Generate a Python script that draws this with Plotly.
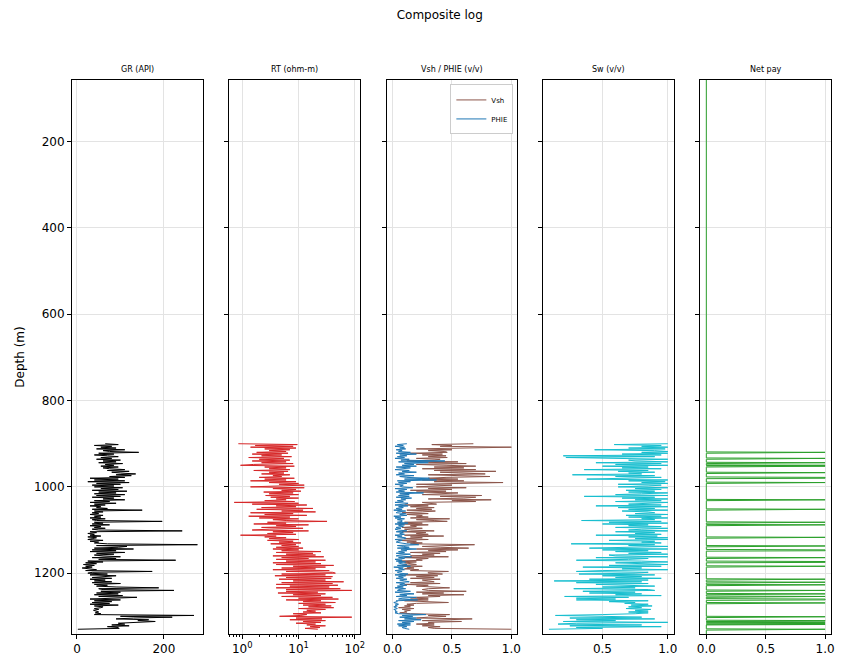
import plotly.graph_objects as go
from plotly.subplots import make_subplots

# log samples, one every 2 m starting at the top of the logged interval
LOG_TOP = 900
LOG_STEP = 2

gr = [65, 95, 40, 80, 55, 90, 45, 110, 60, 75,
      142, 50, 85, 40, 70, 95, 55, 80, 45, 100,
      60, 90, 50, 105, 65, 85, 55, 95, 60, 75,
      110, 70, 120, 80, 100, 135, 90, 125, 75, 110,
      30, 95, 40, 110, 25, 120, 45, 100, 35, 85,
      40, 105, 55, 95, 35, 115, 50, 90, 40, 110,
      45, 100, 35, 85, 60, 110, 40, 75, 30, 90,
      40, 65, 30, 55, 45, 70, 35, 150, 40, 60,
      35, 50, 30, 60, 40, 55, 30, 65, 35, 45,
      196, 40, 60, 35, 75, 30, 55, 40, 65, 35,
      50, 242, 30, 45, 25, 40, 30, 55, 25, 45,
      35, 25, 60, 30, 50, 40, 70, 277, 45, 115,
      95, 40, 130, 35, 90, 30, 110, 45, 85, 40,
      60, 100, 35, 90, 50, 227, 25, 60, 20, 45,
      15, 40, 20, 35, 12, 30, 45, 20, 173, 35,
      25, 70, 30, 90, 45, 35, 80, 30, 65, 40,
      80, 35, 100, 40, 70, 45, 90, 188, 50, 60,
      223, 55, 100, 45, 95, 40, 105, 50, 138, 60,
      30, 100, 40, 80, 35, 75, 30, 95, 40, 60,
      55, 40, 50, 38, 45, 50, 42, 55, 40, 269,
      100, 219, 130, 90, 165, 140, 180, 125, 95, 110,
      80, 120, 70, 95, 97, 2]

rt = [0.85, 9.5, 1.7, 8, 1.4, 9, 2.5, 7, 3, 6,
      1.8, 6.5, 1.5, 5, 2.2, 7.5, 1.3, 5.5, 2, 7,
      1.5, 6, 2.2, 8, 1.6, 0.93, 8.4, 2.5, 6, 3,
      7, 1.6, 6.5, 3, 5.5, 2.2, 7, 3.5, 5, 2,
      8.4, 2.5, 6, 1.4, 9, 3, 10, 4.5, 12.6, 2.5,
      1.4, 12.6, 3.5, 9, 5, 11, 2.4, 8, 3, 10,
      2.6, 7, 3.2, 10, 4, 6, 2.5, 8.5, 0.72, 10,
      1.5, 14, 4, 9, 2.2, 18, 1.8, 12, 5, 20,
      1.4, 8, 2.5, 14, 1.3, 7, 2, 10, 3.5, 6,
      32, 2.8, 6, 1.6, 15, 4, 9, 2.2, 12, 3,
      1.5, 15, 3.5, 8, 2.8, 9, 0.93, 4, 2.5, 6,
      3, 10, 2.8, 8, 4.5, 11, 3.2, 9, 5, 10,
      4, 12, 3.5, 10, 5, 25, 4, 18, 6, 20,
      3.5, 28, 5, 15, 4, 30, 6, 20, 3.5, 25,
      4, 42, 8, 30, 5, 20, 3.5, 35, 6, 40,
      45, 5, 30, 3.8, 40, 6, 38, 4.5, 30, 8,
      63, 5, 40, 4, 50, 7, 35, 4, 55, 6,
      88, 6, 22, 4.3, 30, 8, 25, 5, 40, 10,
      51, 6, 25, 12, 45, 10, 30, 12, 38, 15,
      42, 10, 30, 14, 20, 12, 25, 8, 14, 11,
      4.6, 88, 9, 26, 7, 30, 12, 25, 9, 20,
      14, 30, 16, 24, 13, 22]

vsh = [0.68, 0.33, 0.5, 0.4, 1.0, 0.45, 0.2, 0.5, 0.3, 0.44,
       0.46, 0.15, 0.42, 0.25, 0.45, 0.3, 0.46, 0.2, 0.4, 0.35,
       0.12, 0.55, 0.3, 0.62, 0.2, 0.45, 0.7, 0.35, 0.6, 0.25,
       0.7, 0.35, 0.87, 0.4, 0.6, 0.78, 0.3, 0.55, 0.82, 0.45,
       0.3, 0.55, 0.25, 0.6, 0.35, 0.93, 0.45, 0.2, 0.5, 0.3,
       0.2, 0.62, 0.3, 0.5, 0.15, 0.45, 0.2, 0.55, 0.35, 0.25,
       0.75, 0.4, 0.7, 0.6, 0.3, 0.83, 0.5, 0.7, 0.25, 0.35,
       0.37, 0.1, 0.3, 0.15, 0.35, 0.2, 0.33, 0.12, 0.36, 0.25,
       0.08, 0.3, 0.12, 0.25, 0.2, 0.3, 0.15, 0.48, 0.2, 0.35,
       0.46, 0.1, 0.25, 0.05, 0.3, 0.15, 0.2, 0.08, 0.25, 0.1,
       0.15, 0.35, 0.08, 0.28, 0.2, 0.3, 0.1, 0.43, 0.15, 0.25,
       0.1, 0.3, 0.05, 0.2, 0.12, 0.25, 0.15, 0.69, 0.3, 0.25,
       0.4, 0.64, 0.2, 0.55, 0.3, 0.45, 0.15, 0.4, 0.25, 0.35,
       0.15, 0.47, 0.1, 0.3, 0.2, 0.25, 0.05, 0.2, 0.1, 0.15,
       0.2, 0.08, 0.25, 0.12, 0.18, 0.1, 0.22, 0.15, 0.47, 0.3,
       0.3, 0.42, 0.1, 0.38, 0.2, 0.35, 0.15, 0.4, 0.25, 0.3,
       0.35, 0.15, 0.4, 0.1, 0.3, 0.2, 0.35, 0.48, 0.3, 0.25,
       0.3, 0.62, 0.2, 0.43, 0.25, 0.6, 0.3, 0.4, 0.2, 0.3,
       0.15, 0.3, 0.1, 0.25, 0.47, 0.2, 0.12, 0.18, 0.1, 0.15,
       0.05, 0.18, 0.08, 0.15, 0.1, 0.12, 0.06, 0.15, 0.48, 0.3,
       0.45, 0.3, 0.2, 0.67, 0.45, 0.25, 0.58, 0.3, 0.35, 0.2,
       0.35, 0.25, 0.4, 0.3, 0.35, 1.0]

phie = [0.12, 0.04, 0.09, 0.02, 0.1, 0.06, 0.11, 0.03, 0.08, 0.05,
        0.15, 0.03, 0.2, 0.06, 0.12, 0.04, 0.1, 0.02, 0.14, 0.07,
        0.44, 0.05, 0.3, 0.1, 0.18, 0.08, 0.2, 0.03, 0.15, 0.05,
        0.02, 0.14, 0.08, 0.2, 0.05, 0.1, 0.03, 0.18, 0.06, 0.12,
        0.31, 0.1, 0.37, 0.04, 0.15, 0.05, 0.12, 0.02, 0.09, 0.06,
        0.08, 0.17, 0.02, 0.12, 0.05, 0.1, 0.03, 0.26, 0.06, 0.14,
        0.05, 0.14, 0.03, 0.16, 0.07, 0.11, 0.04, 0.09, 0.02, 0.13,
        0.1, 0.02, 0.13, 0.05, 0.09, 0.03, 0.08, 0.01, 0.11, 0.04,
        0.03, 0.11, 0.06, 0.12, 0.01, 0.07, 0.02, 0.1, 0.04, 0.08,
        0.08, 0.04, 0.13, 0.02, 0.1, 0.05, 0.09, 0.03, 0.07, 0.02,
        0.05, 0.12, 0.03, 0.09, 0.06, 0.1, 0.02, 0.08, 0.04, 0.11,
        0.11, 0.02, 0.08, 0.05, 0.03, 0.07, 0.12, 0.22, 0.04, 0.09,
        0.14, 0.04, 0.2, 0.07, 0.12, 0.05, 0.1, 0.03, 0.15, 0.06,
        0.03, 0.16, 0.05, 0.1, 0.02, 0.08, 0.03, 0.11, 0.05, 0.07,
        0.12, 0.04, 0.15, 0.01, 0.09, 0.05, 0.1, 0.02, 0.08, 0.04,
        0.06, 0.13, 0.02, 0.11, 0.05, 0.09, 0.03, 0.12, 0.06, 0.1,
        0.14, 0.03, 0.1, 0.06, 0.12, 0.04, 0.09, 0.02, 0.11, 0.05,
        0.04, 0.15, 0.02, 0.09, 0.18, 0.06, 0.12, 0.03, 0.2, 0.08,
        0.05, 0.21, 0.03, 0.04, 0.01, 0.03, 0.05, 0.02, 0.04, 0.01,
        0.02, 0.04, 0.01, 0.03, 0.02, 0.04, 0.02, 0.05, 0.28, 0.08,
        0.17, 0.06, 0.2, 0.1, 0.24, 0.05, 0.18, 0.08, 0.15, 0.04,
        0.15, 0.05, 0.12, 0.08, 0.1, 0.14]

sw = [1.0, 0.59, 0.95, 0.8, 1.0, 0.7, 0.98, 0.44, 0.9, 1.0,
      0.8, 1.0, 0.65, 0.95, 0.2, 0.9, 0.22, 0.85, 1.0, 0.7,
      0.75, 1.0, 0.45, 0.95, 0.6, 1.0, 0.5, 0.85, 0.65, 0.95,
      0.36, 0.85, 0.62, 0.9, 0.7, 0.8, 0.27, 0.9, 0.6, 0.95,
      0.55, 0.38, 1.0, 0.7, 0.98, 0.8, 1.0, 0.62, 0.95, 0.85,
      0.62, 1.0, 0.75, 0.95, 0.68, 0.9, 0.7, 1.0, 0.8, 0.6,
      1.0, 0.36, 0.9, 0.65, 1.0, 0.75, 0.95, 0.6, 1.0, 0.8,
      0.7, 0.95, 0.45, 1.0, 0.62, 0.9, 0.7, 1.0, 0.65, 0.85,
      0.9, 0.75, 1.0, 0.68, 0.95, 0.7, 1.0, 0.8, 0.9, 0.34,
      0.95, 0.55, 1.0, 0.5, 0.85, 0.7, 0.95, 0.6, 1.0, 0.8,
      0.7, 1.0, 0.6, 0.9, 0.75, 0.95, 0.45, 0.92, 0.7, 1.0,
      0.75, 1.0, 0.55, 0.9, 0.8, 0.95, 0.26, 0.9, 0.7, 1.0,
      0.65, 0.4, 1.0, 0.5, 0.85, 0.6, 0.95, 0.7, 1.0, 0.55,
      0.6, 1.0, 0.45, 0.85, 0.7, 0.3, 0.8, 1.0, 0.6, 0.9,
      1.0, 0.55, 0.95, 0.35, 0.8, 0.65, 1.0, 0.5, 0.3, 0.85,
      0.75, 0.32, 0.9, 0.5, 0.8, 0.6, 0.95, 0.4, 0.85, 0.13,
      0.8, 0.3, 0.85, 0.45, 0.7, 0.9, 0.5, 0.75, 0.28, 0.85,
      0.9, 0.35, 0.75, 0.4, 0.8, 0.6, 0.95, 0.21, 0.7, 0.3,
      0.6, 0.3, 0.85, 0.55, 0.75, 0.67, 0.85, 0.72, 0.88, 0.7,
      0.8, 0.68, 0.87, 0.75, 0.85, 0.7, 0.85, 0.75, 0.5, 0.14,
      0.5, 0.8, 0.25, 0.9, 0.3, 0.6, 0.2, 1.0, 0.3, 0.16,
      0.8, 0.25, 0.95, 0.3, 0.5, 0.09]

# net pay flag covers the whole well, 1 m samples
WELL_TOP = 57
WELL_BASE = 1341
pay_depths = [920, 934, 944, 950, 952, 967, 978, 979, 980, 990, 1030, 1052,
              1082, 1088, 1117, 1137, 1146, 1147, 1148, 1164, 1173, 1174, 1175,
              1184, 1214, 1221, 1227, 1240, 1248, 1254, 1260, 1261, 1262, 1269,
              1301, 1310, 1311, 1313, 1314, 1316, 1317, 1319, 1330]

depth = [LOG_TOP + LOG_STEP * i for i in range(len(gr))]
net_depth = list(range(WELL_TOP, WELL_BASE + 1))
pay_set = set(pay_depths)
net = [1 if d in pay_set else 0 for d in net_depth]

titles = ['GR (API)', 'RT (ohm-m)', 'Vsh / PHIE (v/v)', 'Sw (v/v)', 'Net pay']
fnt = 'DejaVu Sans'

fig = make_subplots(rows=1, cols=5, shared_yaxes=True)

lw = 1
fig.add_trace(go.Scatter(x=gr, y=depth, mode='lines', line=dict(color='black', width=lw),
                         showlegend=False), row=1, col=1)
fig.add_trace(go.Scatter(x=rt, y=depth, mode='lines', line=dict(color='#d62728', width=lw),
                         showlegend=False), row=1, col=2)
fig.add_trace(go.Scatter(x=vsh, y=depth, mode='lines', name='Vsh',
                         line=dict(color='#8c564b', width=lw)), row=1, col=3)
fig.add_trace(go.Scatter(x=phie, y=depth, mode='lines', name='PHIE',
                         line=dict(color='#1f77b4', width=lw)), row=1, col=3)
fig.add_trace(go.Scatter(x=sw, y=depth, mode='lines', line=dict(color='#17becf', width=lw),
                         showlegend=False), row=1, col=4)
fig.add_trace(go.Scatter(x=net, y=net_depth, mode='lines', line=dict(color='#2ca02c', width=lw),
                         showlegend=False), row=1, col=5)

# track positions (plot area is 767 px wide)
domains = [(0.0, 0.1721), (0.2073, 0.3794), (0.4146, 0.5867), (0.6206, 0.7927), (0.8279, 1.0)]
xranges = [[-11.4, 289], [-0.23, 2.09], [-0.05, 1.05], [0.045, 1.045], [-0.05, 1.05]]

common = dict(showline=True, linecolor='black', linewidth=1, mirror=True,
              showgrid=True, gridcolor='#e3e3e3', gridwidth=1,
              ticks='outside', ticklen=4, tickcolor='black',
              tickfont=dict(family=fnt, size=12, color='black'), zeroline=False)

for i in range(5):
    ax = dict(common, domain=list(domains[i]), range=xranges[i])
    if i == 0:
        ax.update(tickvals=[0, 200])
    elif i == 1:
        ax.update(type='log', tickvals=[1, 10, 100],
                  ticktext=['10<sup>0</sup>', '10<sup>1</sup>', '10<sup>2</sup>'],
                  minor=dict(tickvals=[0.6, 0.7, 0.8, 0.9, 2, 3, 4, 5, 6, 7, 8, 9,
                                       20, 30, 40, 50, 60, 70, 80, 90],
                             ticks='outside', ticklen=2, tickcolor='black', showgrid=False))
    elif i == 3:
        ax.update(tickvals=[0.5, 1.0], ticktext=['0.5', '1.0'])
    else:
        ax.update(tickvals=[0, 0.5, 1.0], ticktext=['0.0', '0.5', '1.0'])
    fig.update_layout({'xaxis' if i == 0 else 'xaxis%d' % (i + 1): ax})

    yax = dict(common, range=[WELL_BASE, WELL_TOP], tickvals=[200, 400, 600, 800, 1000, 1200],
               showticklabels=(i == 0))
    if i == 0:
        yax.update(title=dict(text='Depth (m)', font=dict(family=fnt, size=12, color='black'),
                              standoff=6))
    fig.update_layout({'yaxis' if i == 0 else 'yaxis%d' % (i + 1): yax})

    fig.add_annotation(text=titles[i], xref='paper', yref='paper',
                       x=(domains[i][0] + domains[i][1]) / 2, y=1.0,
                       xanchor='center', yanchor='bottom', yshift=4, showarrow=False,
                       font=dict(family=fnt, size=8, color='black'))

# page body has an 8 px margin, so the figure is 8 px smaller each way
fig.update_layout(
    width=840, height=660,
    margin=dict(l=61, r=12, t=72, b=32),
    paper_bgcolor='white', plot_bgcolor='white',
    title=dict(text='Composite log', x=0.514, xanchor='center', y=0.989, yanchor='middle',
               font=dict(family=fnt, size=12, color='black')),
    font=dict(family=fnt),
    legend=dict(x=0.5815, xanchor='right', y=0.992, yanchor='top',
                bgcolor='white', bordercolor='#cccccc', borderwidth=1,
                font=dict(family=fnt, size=7, color='black'),
                itemwidth=30, tracegroupgap=0),
)

fig.write_html("out.html")
